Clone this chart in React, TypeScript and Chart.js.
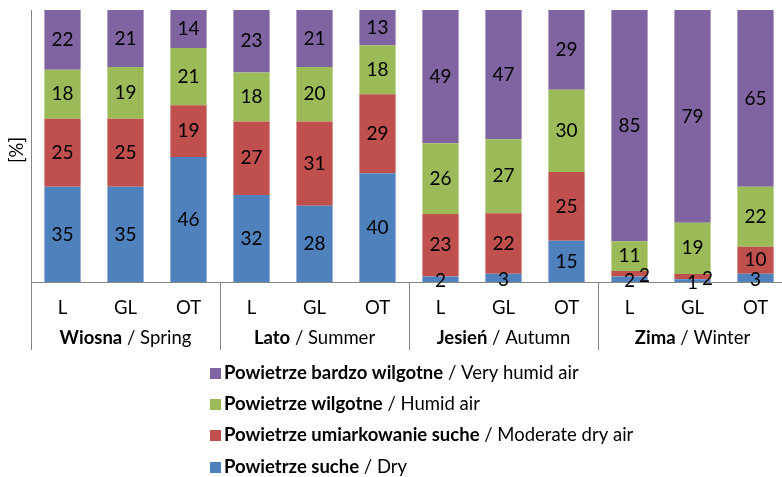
import React, { useEffect, useRef } from "react";
import { Chart, registerables } from "chart.js";

Chart.register(...registerables);

const categories = ["L", "GL", "OT", "L", "GL", "OT", "L", "GL", "OT", "L", "GL", "OT"];
const seasonsPl = ["Wiosna", "Lato", "Jesień", "Zima"];
const seasonsEn = ["Spring", "Summer", "Autumn", "Winter"];

const dry = [35, 35, 46, 32, 28, 40, 2, 3, 15, 2, 1, 3];
const moderateDry = [25, 25, 19, 27, 31, 29, 23, 22, 25, 2, 2, 10];
const humid = [18, 19, 21, 18, 20, 18, 26, 27, 30, 11, 19, 22];
const veryHumid = [22, 21, 14, 23, 21, 13, 49, 47, 29, 85, 79, 65];

const seriesPl = ["Powietrze suche", "Powietrze umiarkowanie suche", "Powietrze wilgotne", "Powietrze bardzo wilgotne"];
const seriesEn = ["Dry", "Moderate dry air", "Humid air", "Very humid air"];
const seriesValues = [dry, moderateDry, humid, veryHumid];
const seriesColors = ["#4F81BD", "#C0504D", "#9BBB59", "#8064A2"];

const FONT = "Lato, 'Open Sans', sans-serif";
const FS = 18.5;
const AXIS = "#868686";

const totals = categories.map((_, i) => seriesValues.reduce((s, arr) => s + arr[i], 0));

const overlayPlugin = {
  id: "overlay",
  afterDatasetsDraw(chart: any) {
    const ctx = chart.ctx as CanvasRenderingContext2D;
    ctx.save();
    ctx.fillStyle = "#000";
    ctx.font = `${FS + 0.5}px ${FONT}`;
    ctx.textAlign = "center";
    ctx.textBaseline = "middle";
    const n = categories.length;
    for (let i = 0; i < n; i++) {
      let prevSmall = false;
      chart.data.datasets.forEach((ds: any, d: number) => {
        const el = chart.getDatasetMeta(d).data[i];
        const v = seriesValues[d][i];
        let x = el.x;
        let y = (el.y + el.base) / 2;
        const small = v < 5;
        if (small && prevSmall) {
          x += 15;
        }
        if (small) y += 2;
        ctx.fillText(String(v), x, y);
        prevSmall = small;
      });
    }
    ctx.restore();
  },
  afterDraw(chart: any) {
    const ctx = chart.ctx as CanvasRenderingContext2D;
    const xs = chart.scales.x;
    const area = chart.chartArea;
    const step = xs.getPixelForValue(1) - xs.getPixelForValue(0);
    ctx.save();
    // separators
    ctx.strokeStyle = AXIS;
    ctx.lineWidth = 1;
    for (let g = 0; g <= 4; g++) {
      const px = Math.round(xs.getPixelForValue(g * 3) - step / 2) + 0.5;
      ctx.beginPath();
      ctx.moveTo(px, area.bottom);
      ctx.lineTo(px, 350);
      ctx.stroke();
    }
    // group labels
    ctx.textBaseline = "middle";
    ctx.fillStyle = "#000";
    for (let g = 0; g < 4; g++) {
      const cx = (xs.getPixelForValue(g * 3) + xs.getPixelForValue(g * 3 + 2)) / 2;
      const bold = seasonsPl[g];
      const norm = " / " + seasonsEn[g];
      ctx.font = `bold ${FS}px ${FONT}`;
      const wb = ctx.measureText(bold).width;
      ctx.font = `${FS}px ${FONT}`;
      const wn = ctx.measureText(norm).width;
      const sx = cx - (wb + wn) / 2;
      ctx.textAlign = "left";
      ctx.font = `bold ${FS}px ${FONT}`;
      ctx.fillText(bold, sx, 338);
      ctx.font = `${FS}px ${FONT}`;
      ctx.fillText(norm, sx + wb, 338);
    }
    // y title
    ctx.save();
    ctx.translate(17, 150);
    ctx.rotate(-Math.PI / 2);
    ctx.textAlign = "center";
    ctx.font = `${FS}px ${FONT}`;
    ctx.fillText("[%]", 0, 0);
    ctx.restore();
    // legend
    const rows = [373, 404, 435, 467];
    for (let r = 0; r < 4; r++) {
      const d = 3 - r;
      const y = rows[r];
      ctx.fillStyle = seriesColors[d];
      ctx.fillRect(210, y - 5, 11, 11);
      ctx.fillStyle = "#000";
      ctx.textAlign = "left";
      ctx.font = `bold ${FS}px ${FONT}`;
      const wb = ctx.measureText(seriesPl[d]).width;
      ctx.fillText(seriesPl[d], 224, y);
      ctx.font = `${FS}px ${FONT}`;
      ctx.fillText(" / " + seriesEn[d], 224 + wb, y);
    }
    ctx.restore();
  },
};

export default function App() {
  const ref = useRef<HTMLCanvasElement>(null);
  useEffect(() => {
    if (!ref.current) return;
    const chart = new Chart(ref.current, {
      type: "bar",
      data: {
        labels: categories,
        datasets: seriesValues.map((vals, d) => ({
          label: seriesPl[d] + " / " + seriesEn[d],
          data: vals.map((v, i) => (v / totals[i]) * 100),
          backgroundColor: seriesColors[d],
          borderWidth: 0,
          barPercentage: 0.575,
          categoryPercentage: 1,
        })),
      },
      options: {
        responsive: false,
        animation: false,
        layout: { padding: { top: 10, right: 3, left: 0, bottom: 0 } },
        plugins: { legend: { display: false }, tooltip: { enabled: false } },
        scales: {
          x: {
            stacked: true,
            offset: true,
            grid: { display: false },
            border: { display: true, color: AXIS, width: 1 },
            ticks: { color: "#000", font: { family: FONT, size: FS }, padding: 7, maxRotation: 0, autoSkip: false },
            afterFit: (s: any) => {
              s.height = 195;
            },
          },
          y: {
            stacked: true,
            min: 0,
            max: 100,
            grid: { display: false },
            border: { display: true, color: AXIS, width: 1 },
            ticks: { display: false },
            afterFit: (s: any) => {
              s.width = 31;
            },
          },
        },
      },
      plugins: [overlayPlugin],
    });
    return () => chart.destroy();
  }, []);
  return (
    <div style={{ position: "fixed", left: 0, top: 0, width: 782, height: 477, overflow: "hidden", background: "#fff" }}>
      <canvas ref={ref} width={790} height={477} style={{ width: 790, height: 477, display: "block" }} />
    </div>
  );
}
